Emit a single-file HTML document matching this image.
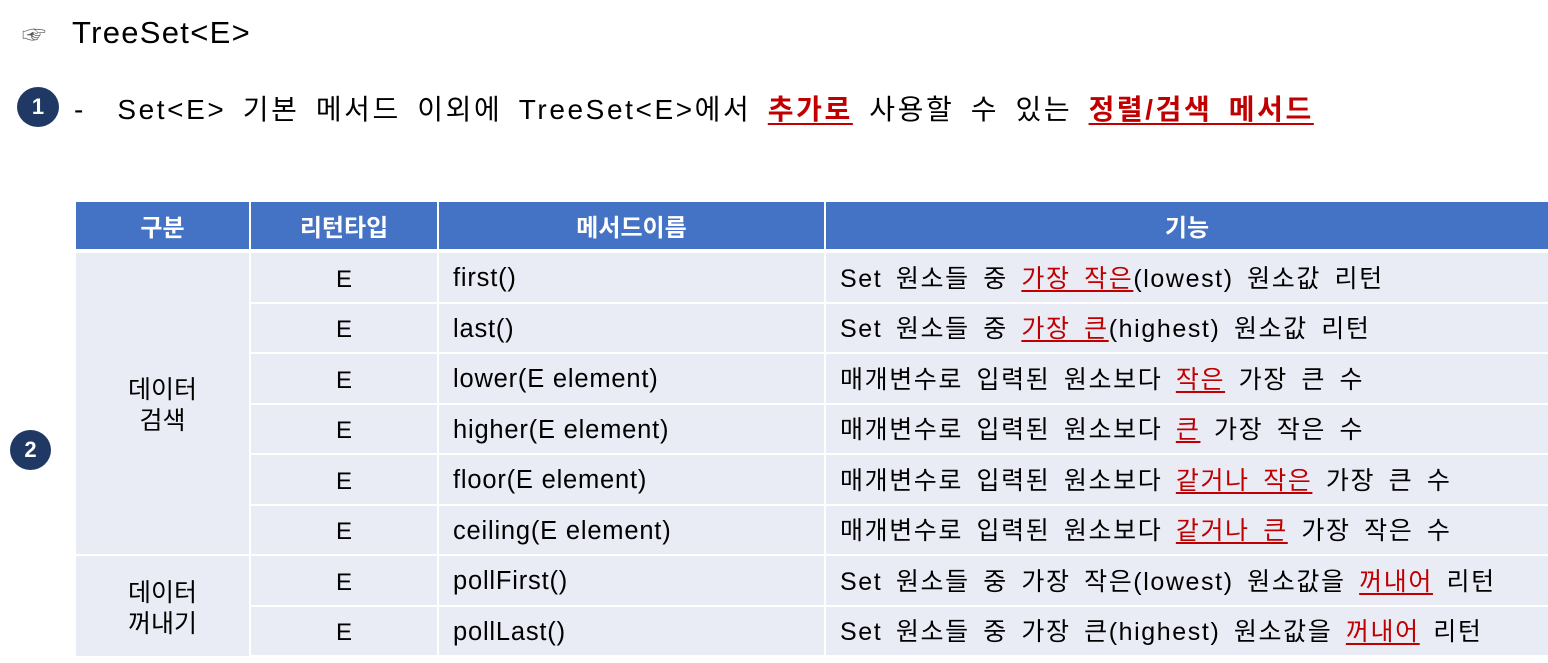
<!DOCTYPE html>
<html><head><meta charset="utf-8"><style>
body{margin:0;width:1548px;height:663px;background:#fff;position:relative;overflow:hidden;font-family:"Liberation Sans","Noto Sans CJK KR",sans-serif;color:#000}
.a{position:absolute;white-space:nowrap}
.c{position:absolute;background:#E9EBF5;font-size:24px;display:flex;align-items:center;box-sizing:border-box;white-space:nowrap;padding-top:5px}
.h{position:absolute;background:#4472C4;color:#fff;font-weight:bold;font-size:24px;display:flex;align-items:center;justify-content:center}
.r{color:#C00000;text-decoration:underline;text-decoration-thickness:2px;text-underline-offset:3px}
.rb{color:#C00000;font-weight:bold;text-decoration:underline;text-decoration-thickness:2px;text-underline-offset:4px}
.badge{position:absolute;border-radius:50%;background:#203864;color:#fff;font-weight:bold;display:flex;align-items:center;justify-content:center;font-size:22px}
.d{font-size:25px;word-spacing:5px;letter-spacing:1.6px;position:relative;top:-3px}
.m{font-size:25.5px;letter-spacing:0.8px;position:relative;top:-1px}
</style></head><body>
<div class="a" style="left:22px;top:15px;font-size:31px"><span style="font-size:24px;color:#555">☞</span><span style="margin-left:26px;letter-spacing:1.3px">TreeSet&lt;E&gt;</span></div>
<div class="badge" style="left:17px;top:87px;width:42px;height:40px">1</div>
<div class="a" style="left:74px;top:88px;font-size:28px;word-spacing:6px">-<span style="margin-left:34px;letter-spacing:2.6px">Set&lt;E&gt; 기본 메서드 이외에 TreeSet&lt;E&gt;에서 <span class="rb">추가로</span> 사용할 수 있는 <span class="rb">정렬/검색 메서드</span></span></div>
<div class="badge" style="left:10px;top:430px;width:41px;height:40px">2</div>
<script>
const heads=["구분","리턴타입","메서드이름","기능"];
const methods=["first()","last()","lower(E element)","higher(E element)","floor(E element)","ceiling(E element)","pollFirst()","pollLast()"];
const descs=['Set 원소들 중 <span class="r">가장 작은</span>(lowest) 원소값 리턴','Set 원소들 중 <span class="r">가장 큰</span>(highest) 원소값 리턴','매개변수로 입력된 원소보다 <span class="r">작은</span> 가장 큰 수','매개변수로 입력된 원소보다 <span class="r">큰</span> 가장 작은 수','매개변수로 입력된 원소보다 <span class="r">같거나 작은</span> 가장 큰 수','매개변수로 입력된 원소보다 <span class="r">같거나 큰</span> 가장 작은 수','Set 원소들 중 가장 작은(lowest) 원소값을 <span class="r">꺼내어</span> 리턴','Set 원소들 중 가장 큰(highest) 원소값을 <span class="r">꺼내어</span> 리턴'];
const cols=[[76,173],[251,186],[439,385],[826,722]];
const t=document.body;
function mk(cls,x,y,w,h,html,name){const d=document.createElement('div');d.className=cls;d.style.cssText=`left:${x}px;top:${y}px;width:${w}px;height:${h}px`;d.innerHTML='<span>'+html+'</span>';


t.appendChild(d);return d;}
heads.forEach((h,i)=>mk('h',cols[i][0],202,cols[i][1],47,h,'header-'+i));
const y0=253,rh=50.5;
mk('c',cols[0][0],y0,cols[0][1],rh*6-2,'<div style="width:173px;text-align:center;line-height:31px;font-size:25px">데이터<br>검색</div>','group-search');
mk('c',cols[0][0],y0+rh*6,cols[0][1],rh*2-1,'<div style="width:173px;text-align:center;line-height:31px;font-size:25px">데이터<br>꺼내기</div>','group-poll');
methods.forEach((m,i)=>{const y=y0+i*rh;
const a=mk('c',cols[1][0],y,cols[1][1],rh-2,'E','return-type-'+i);a.style.justifyContent='center';
const b=mk('c',cols[2][0],y,cols[2][1],rh-2,'<span class="m">'+m+'</span>','method-'+i);b.style.paddingLeft='14px';
const c=mk('c',cols[3][0],y,cols[3][1],rh-2,'<span class="d">'+descs[i]+'</span>','desc-'+i);c.style.paddingLeft='14px';});
</script>
</body></html>
